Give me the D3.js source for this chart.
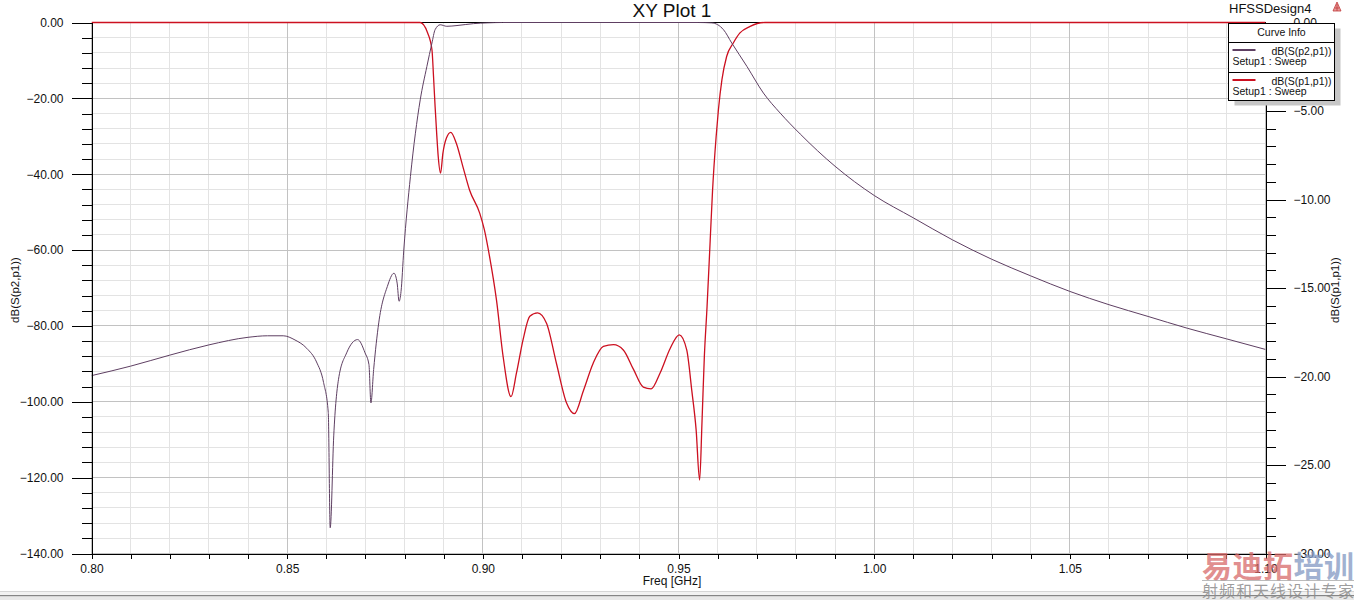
<!DOCTYPE html>
<html>
<head>
<meta charset="utf-8">
<script src="https://cdnjs.cloudflare.com/ajax/libs/d3/7.8.5/d3.min.js"></script>
<style>
body { margin: 0; background: #fff; }
svg { display: block; font-family: "Liberation Sans", Arial, sans-serif; }
</style>
</head>
<body>
<svg id="chart" width="1354" height="600"></svg>
<script>
// S21 (left axis, dB)
var s21Freq = [0.800, 0.810, 0.820, 0.830, 0.840, 0.845, 0.849, 0.852, 0.855, 0.8575,
    0.8593, 0.8605, 0.8610, 0.8619, 0.8631, 0.8652, 0.8680, 0.8699, 0.8709, 0.8714,
    0.8721, 0.8734, 0.8756, 0.8773, 0.8781, 0.8786, 0.8791, 0.8798, 0.8815, 0.8840,
    0.8857, 0.8870, 0.8878, 0.8891, 0.8908, 0.8934, 0.8976, 0.9011, 0.905, 0.955,
    0.9585, 0.9615, 0.9636, 0.9675, 0.9717, 0.9760, 0.9811, 0.990, 1.000, 1.010,
    1.020, 1.030, 1.040, 1.050, 1.060, 1.070, 1.080, 1.090, 1.100];
var s21Db = [-93.1, -90.6, -87.7, -85.0, -83.0, -82.6, -82.6, -83.7, -85.9, -89.5,
    -94.9, -102.8, -133.2, -109.0, -94.2, -87.1, -83.6, -87.1, -90.2, -100.3,
    -91.5, -79.2, -69.6, -66.1, -68.7, -73.5, -70.9, -60.0, -40.6, -20.4,
    -11.6, -5.4, -1.9, -0.6, -1.0, -0.8, -0.3, -0.1, 0, 0,
    -0.1, -1.9, -5.4, -11.6, -18.6, -23.9, -29.4, -37.9, -45.6, -51.5,
    -57.3, -62.4, -66.8, -70.9, -74.4, -77.5, -80.6, -83.4, -86.2];

// S11 (right axis, dB)
var s11Freq = [0.800, 0.884, 0.8859, 0.8870, 0.8874, 0.8878, 0.8882, 0.8886, 0.8892, 0.8898,
    0.8907, 0.8918, 0.8932, 0.8949, 0.8966, 0.8992, 0.9004, 0.9017, 0.9035, 0.9052,
    0.9072, 0.9086, 0.9103, 0.9120, 0.9140, 0.9163, 0.9188, 0.9214, 0.9234, 0.9257,
    0.9282, 0.9308, 0.9334, 0.9359, 0.9385, 0.9410, 0.9430, 0.9453, 0.9479, 0.9502,
    0.9521, 0.9534, 0.9545, 0.9554, 0.9560, 0.9566, 0.9573, 0.9581, 0.9587, 0.9596,
    0.9602, 0.9611, 0.9623, 0.9640, 0.9657, 0.9683, 0.9721, 1.100];
var s11Db = [0, 0, -0.59, -1.54, -3.05, -4.74, -6.25, -7.57, -8.51, -7.38,
    -6.53, -6.21, -6.81, -8.14, -9.46, -10.77, -11.72, -13.2, -15.7, -18.9,
    -21.14, -19.8, -17.9, -16.6, -16.4, -17.0, -19.25, -21.5, -22.1, -20.8,
    -19.25, -18.3, -18.2, -18.5, -19.6, -20.6, -20.7, -19.8, -18.4, -17.65,
    -18.5, -20.8, -23.0, -25.85, -22.6, -18.9, -16.05, -12.3, -9.5, -6.5,
    -4.93, -3.23, -1.92, -1.16, -0.59, -0.22, 0, 0];

var xTickValues = [0.80, 0.85, 0.90, 0.95, 1.00, 1.05, 1.10];
var leftTickValues = [0, -20, -40, -60, -80, -100, -120, -140];
var rightTickValues = [0, -5, -10, -15, -20, -25, -30];
var curveNames = ["dB(S(p2,p1))", "dB(S(p1,p1))"];
var curveSetup = "Setup1 : Sweep";

var purple = "#5e3f62";
var red = "#cc1020";

var svg = d3.select("#chart");

// plot frame (note: "top" is taken by window.top, so prefix these)
var plotLeft = 91.5, plotRight = 1265.5, plotTop = 22.5, plotBottom = 553.5;

var x = d3.scaleLinear().domain([0.80, 1.10]).range([plotLeft, plotRight]);
var yLeft = d3.scaleLinear().domain([-140, 0]).range([plotBottom, plotTop]);
var yRight = d3.scaleLinear().domain([-30, 0]).range([plotBottom, plotTop]);

var xMinor = d3.range(0, 31).map(function (i) { return 0.80 + i * 0.01; });
var yMinor = d3.range(0, 36).map(function (i) { return -140 + i * 4; });

// grid: minor first, major on top
var grid = svg.append("g").attr("shape-rendering", "crispEdges");
grid.selectAll(".vmin").data(xMinor).enter().append("line")
    .attr("x1", function (d) { return x(d); }).attr("x2", function (d) { return x(d); })
    .attr("y1", plotTop).attr("y2", plotBottom)
    .style("stroke", "#e3e3e3");
grid.selectAll(".hmin").data(yMinor).enter().append("line")
    .attr("x1", plotLeft).attr("x2", plotRight)
    .attr("y1", function (d) { return yLeft(d); }).attr("y2", function (d) { return yLeft(d); })
    .style("stroke", "#e3e3e3");
grid.selectAll(".vmaj").data(xTickValues).enter().append("line")
    .attr("x1", function (d) { return x(d); }).attr("x2", function (d) { return x(d); })
    .attr("y1", plotTop).attr("y2", plotBottom)
    .style("stroke", "#c2c2c2");
grid.selectAll(".hmaj").data(leftTickValues).enter().append("line")
    .attr("x1", plotLeft).attr("x2", plotRight)
    .attr("y1", function (d) { return yLeft(d); }).attr("y2", function (d) { return yLeft(d); })
    .style("stroke", "#c2c2c2");

// top border (shows where both curves leave 0 dB)
svg.append("line")
    .attr("x1", plotLeft).attr("x2", plotRight).attr("y1", plotTop).attr("y2", plotTop)
    .attr("shape-rendering", "crispEdges")
    .style("stroke", "#000");

// curves
svg.append("clipPath").attr("id", "plotClip")
    .append("rect").attr("x", plotLeft).attr("y", plotTop - 3)
    .attr("width", plotRight - plotLeft).attr("height", plotBottom - plotTop + 3);

var s21Data = s21Freq.map(function (f, i) { return [f, s21Db[i]]; });
var s11Data = s11Freq.map(function (f, i) { return [f, s11Db[i]]; });

var lineLeft = d3.line()
    .x(function (d) { return x(d[0]); })
    .y(function (d) { return yLeft(d[1]); })
    .curve(d3.curveMonotoneX);
var lineRight = d3.line()
    .x(function (d) { return x(d[0]); })
    .y(function (d) { return yRight(d[1]); })
    .curve(d3.curveMonotoneX);

var curves = svg.append("g").attr("clip-path", "url(#plotClip)");
curves.append("path").datum(s11Data)
    .attr("d", lineRight)
    .style("fill", "none").style("stroke", red).style("stroke-width", 1.3);
curves.append("path").datum(s21Data)
    .attr("d", lineLeft)
    .style("fill", "none").style("stroke", purple).style("stroke-width", 1);

// axes
var fmt = d3.format(".2f");

svg.append("g")
    .attr("transform", "translate(0," + plotBottom + ")")
    .call(d3.axisBottom(x).tickValues(xMinor).tickSize(5).tickSizeOuter(0).tickPadding(6)
        .tickFormat(function (d) { return Math.round(d * 100) % 5 === 0 ? fmt(d) : ""; }));

svg.append("g")
    .attr("transform", "translate(" + plotLeft + ",0)")
    .call(d3.axisLeft(yLeft).tickValues(yMinor).tickSize(10).tickSizeOuter(0).tickFormat(""));
svg.append("g")
    .attr("transform", "translate(" + plotLeft + ",0)")
    .call(d3.axisLeft(yLeft).tickValues(leftTickValues).tickSize(20).tickSizeOuter(0).tickPadding(8).tickFormat(fmt));

var rightMinorVals = d3.range(0, 31).map(function (i) { return -30 + i; });
svg.append("g")
    .attr("transform", "translate(" + plotRight + ",0)")
    .call(d3.axisRight(yRight).tickValues(rightMinorVals).tickSize(10).tickSizeOuter(0).tickFormat(""));
svg.append("g")
    .attr("transform", "translate(" + plotRight + ",0)")
    .call(d3.axisRight(yRight).tickValues(rightTickValues).tickSize(20).tickSizeOuter(0).tickPadding(8).tickFormat(fmt));

svg.selectAll(".tick text")
    .style("font-size", "12px")
    .style("font-family", "'Liberation Sans', Arial, sans-serif")
    .style("fill", "#111");
svg.selectAll(".domain, .tick line").attr("shape-rendering", "crispEdges").style("stroke", "#000");

// titles
svg.append("text")
    .attr("x", 672).attr("y", 17)
    .attr("text-anchor", "middle")
    .style("font-size", "19px").style("fill", "#111")
    .text("XY Plot 1");

svg.append("text")
    .attr("x", 1229).attr("y", 13)
    .style("font-size", "13px").style("fill", "#111")
    .text("HFSSDesign4");

// little ansoft mark
var logo = svg.append("g").attr("transform", "translate(1333,2)");
logo.append("path").attr("d", "M0,9 L4,0 L8,9 Z").style("fill", "#e79a9a").style("stroke", "#c23a3a").style("stroke-width", 0.8);
logo.append("path").attr("d", "M2,6 L6,6 M4,2 L4,9").style("stroke", "#c23a3a").style("stroke-width", 0.8);

svg.append("text")
    .attr("x", 672).attr("y", 585)
    .attr("text-anchor", "middle")
    .style("font-size", "12px").style("fill", "#111")
    .text("Freq [GHz]");

svg.append("text")
    .attr("transform", "translate(19,290) rotate(-90)")
    .attr("text-anchor", "middle")
    .style("font-size", "11.5px").style("fill", "#111")
    .text(curveNames[0]);

svg.append("text")
    .attr("transform", "translate(1339,290) rotate(-90)")
    .attr("text-anchor", "middle")
    .style("font-size", "11.5px").style("fill", "#111")
    .text(curveNames[1]);

// curve info box
var legend = svg.append("g").attr("transform", "translate(1228.5,23.5)");
var lw = 106, lh = 77;
legend.append("rect").attr("x", 6).attr("y", 5).attr("width", lw).attr("height", lh).style("fill", "#c6c6c6");
legend.append("rect").attr("width", lw).attr("height", lh)
    .attr("shape-rendering", "crispEdges")
    .style("fill", "#fff").style("stroke", "#000");
legend.append("text").attr("x", lw / 2).attr("y", 12.5).attr("text-anchor", "middle")
    .style("font-size", "10.5px").style("fill", "#111").text("Curve Info");
legend.append("line").attr("x1", 0).attr("x2", lw).attr("y1", 18.5).attr("y2", 18.5)
    .attr("shape-rendering", "crispEdges").style("stroke", "#000");
legend.append("line").attr("x1", 0).attr("x2", lw).attr("y1", 49).attr("y2", 49)
    .attr("shape-rendering", "crispEdges").style("stroke", "#000");

var entries = legend.selectAll(".entry")
    .data(curveNames)
    .enter().append("g")
    .attr("transform", function (d, i) { return "translate(0," + (i * 30) + ")"; });
entries.append("line")
    .attr("x1", 4).attr("x2", 27).attr("y1", 26.5).attr("y2", 26.5)
    .style("stroke", function (d, i) { return i === 0 ? purple : red; })
    .style("stroke-width", 2);
entries.append("text")
    .attr("x", lw - 3).attr("y", 31).attr("text-anchor", "end")
    .style("font-size", "10.5px").style("fill", "#111")
    .text(function (d) { return d; });
entries.append("text")
    .attr("x", 4).attr("y", 41.5)
    .style("font-size", "10.5px").style("fill", "#111")
    .text(curveSetup);

// window edge at the bottom
svg.append("rect").attr("x", 0).attr("y", 591).attr("width", 1354).attr("height", 1).style("fill", "#d6d6d6");
svg.append("rect").attr("x", 0).attr("y", 592).attr("width", 1354).attr("height", 3).style("fill", "#f2f2f2");
svg.append("rect").attr("x", 0).attr("y", 595).attr("width", 1354).attr("height", 1.5).style("fill", "#858585");
svg.append("rect").attr("x", 0).attr("y", 596.5).attr("width", 1354).attr("height", 3.5).style("fill", "#e8e8e8");

// watermark
var wm = svg.append("g").style("font-family", "'Noto Sans CJK SC', sans-serif");
var wmTop = wm.append("text")
    .attr("x", 1202).attr("y", 577)
    .attr("textLength", 152)
    .style("font-size", "30px").style("font-weight", "bold");
wmTop.append("tspan").style("fill", "#d86a6a").style("fill-opacity", 0.75).text("易迪拓");
wmTop.append("tspan").style("fill", "#8298c2").style("fill-opacity", 0.75).text("培训");
wm.append("line").attr("x1", 1202).attr("x2", 1354).attr("y1", 580.5).attr("y2", 580.5)
    .style("stroke", "#aaa").style("stroke-opacity", 0.8);
wm.append("text")
    .attr("x", 1202).attr("y", 597)
    .attr("textLength", 152)
    .style("font-size", "16px").style("fill", "#8c8c8c").style("fill-opacity", 0.85)
    .text("射频和天线设计专家");
</script>
</body>
</html>
